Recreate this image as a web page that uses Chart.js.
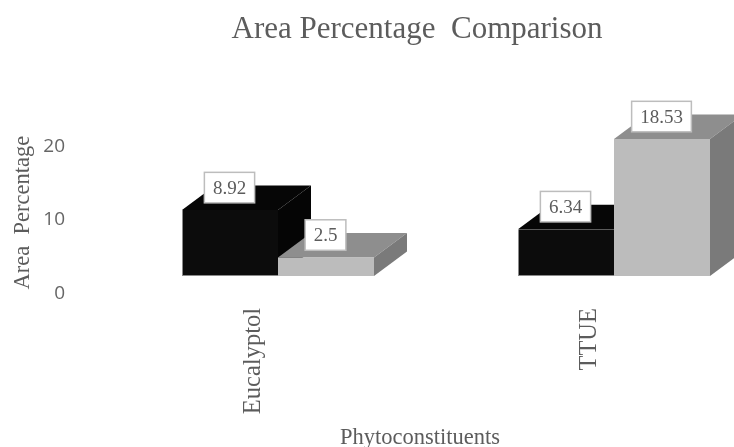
<!DOCTYPE html>
<html>
<head>
<meta charset="utf-8">
<script src="https://cdn.jsdelivr.net/npm/chart.js@4"></script>
<style>
  html, body { margin: 0; padding: 0; background: #fff; overflow: hidden; }
  #frame { width: 734px; height: 447px; overflow: hidden; }
  canvas { display: block; }
</style>
</head>
<body>
<div id="frame"><canvas id="chart" width="834" height="447"></canvas></div>
<script>
const categories = ['Eucalyptol', 'TTUE'];
const firstSeries = [8.92, 6.34];
const secondSeries = [2.5, 18.53];
const valueTicks = [0, 10, 20];

const SERIF = '"Liberation Serif", serif';
const SANS = '"Open Sans", sans-serif';
const GREY_TEXT = '#5c5c5c';
const DEPTH_X = 33;
const DEPTH_Y = 24.5;
const PX_PER_UNIT = 7.4;
const FLOOR_LIFT = 18;            // bars stand this far above the axis zero
const AREA_TOP = 131;
const AREA_BOTTOM = 294;

const faceColours = [
  { top: '#060606', side: '#050505' },
  { top: '#8e8e8e', side: '#7a7a7a' }
];

// Top and side faces give each bar its extruded look.
const extrusion = {
  id: 'extrusion',
  beforeDatasetsDraw(chart) {
    const { ctx } = chart;
    chart.data.datasets.forEach((ds, i) => {
      chart.getDatasetMeta(i).data.forEach(bar => {
        const left = bar.x - bar.width / 2;
        const right = bar.x + bar.width / 2;
        const top = bar.y;
        const base = bar.base;
        ctx.fillStyle = faceColours[i].top;
        ctx.beginPath();
        ctx.moveTo(left, top);
        ctx.lineTo(left + DEPTH_X, top - DEPTH_Y);
        ctx.lineTo(right + DEPTH_X, top - DEPTH_Y);
        ctx.lineTo(right, top);
        ctx.closePath();
        ctx.fill();
        ctx.fillStyle = faceColours[i].side;
        ctx.beginPath();
        ctx.moveTo(right, top);
        ctx.lineTo(right + DEPTH_X, top - DEPTH_Y);
        ctx.lineTo(right + DEPTH_X, base - DEPTH_Y);
        ctx.lineTo(right, base);
        ctx.closePath();
        ctx.fill();
      });
    });
  }
};

// Boxed value labels sitting on the top face of each bar.
const valueBoxes = {
  id: 'valueBoxes',
  afterDatasetsDraw(chart) {
    const { ctx } = chart;
    ctx.save();
    ctx.font = '19px ' + SERIF;
    ctx.textAlign = 'center';
    ctx.textBaseline = 'middle';
    chart.data.datasets.forEach((ds, i) => {
      chart.getDatasetMeta(i).data.forEach((bar, j) => {
        const text = String(ds.data[j]);
        const w = ctx.measureText(text).width + 17;
        const h = 30.5;
        const cx = bar.x - 0.5;
        const cy = bar.y - 22.5;
        ctx.fillStyle = '#ffffff';
        ctx.fillRect(cx - w / 2, cy - h / 2, w, h);
        ctx.strokeStyle = '#bdbdbd';
        ctx.lineWidth = 1.5;
        ctx.strokeRect(cx - w / 2, cy - h / 2, w, h);
        ctx.fillStyle = GREY_TEXT;
        ctx.fillText(text, cx, cy + 1);
      });
    });
    ctx.restore();
  }
};

// Category axis caption, centred under the visible part of the plot.
const categoryCaption = {
  id: 'categoryCaption',
  afterDraw(chart) {
    const { ctx } = chart;
    ctx.save();
    ctx.font = '22.5px ' + SERIF;
    ctx.fillStyle = GREY_TEXT;
    ctx.textAlign = 'center';
    ctx.textBaseline = 'middle';
    ctx.fillText('Phytoconstituents', 420, 438);
    ctx.restore();
  }
};

const span = (AREA_BOTTOM - AREA_TOP) / PX_PER_UNIT;
const lift = FLOOR_LIFT / PX_PER_UNIT;

new Chart(document.getElementById('chart'), {
  type: 'bar',
  data: {
    labels: categories,
    datasets: [
      {
        label: 'Series 1',
        data: firstSeries,
        backgroundColor: '#0c0c0c',
        borderColor: '#8a8a8a',
        borderWidth: { left: 1, bottom: 1, top: 0, right: 0 },
        borderSkipped: false,
        yAxisID: 'bars',
        clip: false
      },
      { label: 'Series 2', data: secondSeries, backgroundColor: '#bcbcbc', yAxisID: 'bars', clip: false }
    ]
  },
  plugins: [extrusion, valueBoxes, categoryCaption],
  options: {
    responsive: false,
    animation: false,
    layout: { padding: 0 },
    categoryPercentage: 192 / 336,
    barPercentage: 1,
    plugins: {
      legend: { display: false },
      tooltip: { enabled: false },
      title: {
        display: true,
        text: 'Area Percentage  Comparison',
        color: GREY_TEXT,
        font: { family: SERIF, size: 31, weight: 'normal' },
        padding: { top: 11, bottom: 83 }
      }
    },
    scales: {
      x: {
        grid: { display: false, drawTicks: false },
        border: { display: false },
        afterFit(scale) { scale.height = 447 - AREA_BOTTOM; },
        ticks: {
          color: GREY_TEXT,
          font: { family: SERIF, size: 24.5 },
          minRotation: 90,
          maxRotation: 90,
          padding: 14,
          labelOffset: -24
        }
      },
      y: {
        position: 'left',
        min: 0,
        max: span,
        afterFit(scale) { scale.width = 110; },
        afterBuildTicks(scale) { scale.ticks = valueTicks.map(value => ({ value })); },
        grid: { display: false, drawTicks: false },
        border: { display: false },
        title: {
          display: true,
          text: 'Area  Percentage',
          color: GREY_TEXT,
          font: { family: SERIF, size: 22.5, weight: 'normal' },
          padding: { top: 10, bottom: 0 }
        },
        ticks: {
          color: '#666666',
          font: { family: SANS, size: 19 },
          padding: 45
        }
      },
      bars: {
        display: false,
        position: 'left',
        min: -lift,
        max: span - lift
      },
      // Reserves the strip to the right of the plot.
      rightMargin: {
        position: 'right',
        min: 0,
        max: 1,
        afterFit(scale) { scale.width = 52; },
        grid: { display: false, drawTicks: false },
        border: { display: false },
        ticks: { display: false }
      }
    }
  }
});
</script>
</body>
</html>
